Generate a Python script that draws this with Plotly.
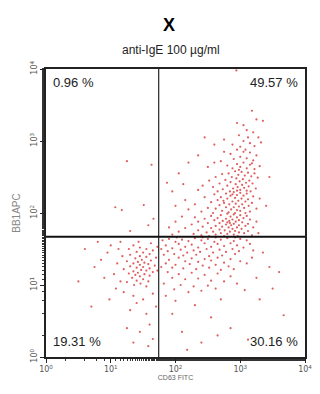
import plotly.graph_objects as go

# Events per quadrant, stored as log10 fluorescence (CD63 FITC, BB1 APC)
ur_cd63 = [3.18,3.25,3.05,3.35,2.95,2.94,
    3.10,3.20,2.98,3.28,3.05,3.15,2.88,3.22,3.00,3.32,2.75,3.12,
    2.95,3.05,3.15,2.85,3.25,3.00,3.10,2.90,3.20,2.70,3.05,2.95,3.15,2.80,3.30,3.00,3.10,2.88,2.60,3.22,2.98,2.75,3.08,2.50,3.18,
    2.92,3.02,3.12,2.82,3.22,2.72,2.97,3.07,3.17,2.87,2.62,3.27,2.94,3.04,2.77,3.14,2.52,2.99,2.85,3.09,3.19,2.68,2.93,3.03,2.42,2.80,3.13,2.58,2.96,3.06,2.89,3.24,2.73,3.00,3.10,2.84,2.35,2.65,3.16,2.95,
    2.90,3.00,2.78,3.10,2.60,2.95,3.05,2.85,3.20,2.70,2.45,2.92,3.02,2.80,3.12,2.65,2.97,2.88,3.08,2.55,2.75,3.18,2.93,3.03,2.83,2.30,2.68,3.13,2.98,2.90,2.78,3.06,2.50,2.62,3.25,2.86,2.95,3.00,2.72,3.15,2.40,2.82,2.92,3.08,2.58,2.20,2.15,3.30,2.88,2.74,
    2.80,2.90,3.00,2.70,2.55,3.10,2.85,2.95,2.65,3.05,2.45,2.78,2.88,3.15,2.98,2.60,2.83,2.73,2.35,2.93,3.03,2.80,2.84,2.68,2.50,3.12,2.90,2.78,2.25,2.98,2.86,2.62,3.08,2.72,2.42,2.95,2.82,3.20,2.55,2.15,2.88,3.02,2.68,2.76,2.35,2.92,3.12,2.58,2.05,2.84,2.98,2.48,2.70,3.06,2.28,2.80,2.90,1.95,2.62,3.18,2.40,2.75,2.96,2.52,3.28,3.25,2.00,1.90,2.10,2.30,
    1.87,2.05,2.20,1.95,2.35,2.12,2.60,2.45,2.00,3.45,3.40]
ur_bb1 = [3.42,3.30,3.22,3.28,3.25,3.98,
    3.15,3.12,3.08,3.05,3.00,2.97,2.95,2.93,2.92,2.98,3.02,3.05,
    2.88,2.85,2.84,2.82,2.80,2.78,2.76,2.75,2.73,2.72,2.70,2.68,2.67,2.66,2.65,2.64,2.62,2.62,2.70,2.61,2.60,2.85,2.88,2.64,2.69,
    2.58,2.57,2.56,2.55,2.55,2.54,2.53,2.52,2.51,2.50,2.50,2.49,2.48,2.47,2.46,2.45,2.45,2.44,2.43,2.42,2.41,2.41,2.40,2.39,2.38,2.38,2.37,2.36,2.36,2.35,2.34,2.34,2.33,2.32,2.31,2.30,2.32,2.30,2.30,2.31,
    2.29,2.28,2.27,2.27,2.26,2.25,2.24,2.24,2.23,2.22,2.22,2.21,2.20,2.20,2.19,2.18,2.17,2.16,2.16,2.15,2.14,2.14,2.13,2.12,2.12,2.12,2.11,2.10,2.09,2.08,2.08,2.07,2.07,2.06,2.06,2.05,2.04,2.03,2.03,2.02,2.02,2.01,2.00,2.00,2.00,2.05,2.18,2.20,2.26,2.17,
    1.99,1.98,1.97,1.97,1.96,1.96,1.95,1.94,1.93,1.93,1.92,1.92,1.91,1.91,1.90,1.90,1.89,1.89,1.88,1.88,1.87,1.87,1.86,1.86,1.86,1.85,1.85,1.84,1.84,1.83,1.83,1.82,1.82,1.81,1.81,1.80,1.80,1.80,1.79,1.79,1.78,1.78,1.77,1.76,1.76,1.75,1.75,1.74,1.74,1.74,1.73,1.73,1.72,1.72,1.71,1.71,1.70,1.70,1.70,1.69,1.69,1.68,1.68,1.68,1.72,1.88,1.88,1.80,1.95,1.94,
    2.42,2.55,2.70,2.30,2.80,2.40,2.95,3.05,2.10,2.50,2.10]

ul_cd63 = [1.25,1.63,1.07,1.17,1.51,1.66,1.58,1.30]
ul_bb1 = [2.72,2.67,2.08,2.04,2.11,1.92,1.83,1.75]

ll_cd63 = [1.35,1.45,1.55,1.65,1.40,1.50,1.60,1.30,1.45,1.55,1.70,1.38,1.48,1.62,1.25,1.42,1.52,1.35,1.58,1.45,1.68,1.30,1.50,1.40,1.60,1.20,1.47,1.55,1.35,1.65,1.42,1.28,1.52,1.38,1.60,1.45,1.33,1.50,1.40,1.58,1.25,1.46,1.36,1.55,1.62,1.28,1.72,1.18,1.72,1.43,
    1.10,1.05,0.95,1.15,0.85,1.00,0.75,0.60,1.20,1.35,1.50,1.65,1.08,0.90,0.70,1.30,1.55,1.45,1.25,1.65,0.50,1.12,0.80,1.70,1.40,1.60,1.15,0.98,1.35,1.58]
ll_bb1 = [1.55,1.52,1.50,1.48,1.46,1.45,1.43,1.42,1.40,1.39,1.38,1.37,1.35,1.34,1.33,1.32,1.31,1.30,1.29,1.28,1.27,1.26,1.25,1.24,1.23,1.22,1.21,1.20,1.19,1.18,1.17,1.16,1.15,1.14,1.13,1.12,1.10,1.08,1.06,1.05,1.04,1.02,1.00,0.98,1.58,1.50,1.53,1.40,1.20,1.60,
    1.30,1.15,1.45,1.05,1.35,1.55,1.25,1.50,0.90,0.85,0.80,0.88,0.95,1.10,0.70,0.65,0.60,0.35,0.40,0.25,1.05,1.50,1.60,0.70,0.75,0.45,1.60,0.80,0.20,0.15]

lr_cd63 = [1.80,1.90,2.00,2.10,2.20,2.30,2.40,2.50,2.60,2.70,2.80,2.90,3.00,3.10,2.85,2.65,2.45,2.25,2.05,1.85,2.95,2.75,2.55,2.35,2.15,1.95,3.05,2.88,2.68,2.48,2.28,2.08,1.88,2.78,2.58,2.38,2.18,2.98,3.15,3.20,2.62,2.42,2.02,2.92,1.78,
    1.82,1.98,2.12,2.32,2.52,2.72,2.92,2.05,2.25,2.45,2.65,2.85,1.90,2.15,2.35,2.55,2.75,3.00,1.85,2.00,2.22,2.42,2.62,2.82,1.95,2.12,2.32,2.52,2.70,3.10,1.78,2.90,3.18,
    1.88,2.05,2.25,2.45,2.65,2.85,1.95,2.15,2.35,2.55,2.75,1.82,2.08,2.28,2.50,2.95,2.40,2.20,1.98,2.62,
    3.45,3.60,3.67,3.07,3.12,2.70,2.30,1.95,2.55,2.85,2.10,3.30,2.40,3.50,3.25,2.00,2.65,3.35,1.85,2.18]
lr_bb1 = [1.62,1.64,1.60,1.63,1.61,1.65,1.62,1.64,1.60,1.63,1.65,1.61,1.64,1.62,1.58,1.57,1.58,1.56,1.57,1.55,1.55,1.54,1.53,1.52,1.53,1.51,1.52,1.50,1.49,1.50,1.48,1.49,1.47,1.46,1.45,1.46,1.45,1.47,1.57,1.48,1.66,1.66,1.66,1.66,1.50,
    1.42,1.43,1.41,1.42,1.40,1.41,1.43,1.38,1.37,1.36,1.38,1.36,1.35,1.33,1.32,1.34,1.31,1.33,1.30,1.28,1.29,1.27,1.28,1.26,1.24,1.23,1.22,1.24,1.21,1.30,1.25,1.22,1.38,
    1.18,1.15,1.17,1.14,1.16,1.12,1.10,1.08,1.09,1.06,1.05,1.02,1.00,0.98,0.99,1.02,0.92,0.90,0.94,0.95,
    1.25,1.18,0.58,0.93,0.24,0.80,0.72,0.60,0.55,0.40,0.35,0.80,0.20,0.95,1.10,0.78,0.30,1.45,0.85,0.10]

# Quadrant gates (log10 units) and quadrant percentages
gate_cd63 = 1.74
gate_bb1 = 1.67
quad_pct = {"UL": 0.96, "UR": 49.57, "LL": 19.31, "LR": 30.16}

decades = [0, 1, 2, 3, 4]
decade_text = ["10<sup>%d</sup>" % d for d in decades]

xs = ur_cd63 + ul_cd63 + ll_cd63 + lr_cd63
ys = ur_bb1 + ul_bb1 + ll_bb1 + lr_bb1

fig = go.Figure()
fig.add_trace(go.Scatter(
    x=[10 ** v for v in xs], y=[10 ** v for v in ys],
    mode="markers",
    marker=dict(size=2.2, color="rgba(215,55,55,0.8)", line=dict(width=0)),
    hoverinfo="skip", showlegend=False,
))

axis_common = dict(
    type="log", range=[0, 4], showgrid=False, zeroline=False,
    showline=True, linecolor="#222", linewidth=1.5, mirror=True,
    ticks="outside", ticklen=4, tickcolor="#222", tickwidth=1,
    tickvals=[10 ** d for d in decades], ticktext=decade_text,
    tickfont=dict(family="DejaVu Sans", size=8, color="#555"),
    minor=dict(ticks="outside", ticklen=2, tickcolor="#333", tickwidth=1, showgrid=False),
)

fig.update_xaxes(**axis_common, title=dict(text="CD63 FITC", standoff=2,
                 font=dict(family="Liberation Sans", size=7, color="#666")))
fig.update_yaxes(**axis_common, tickangle=-90,
                 title=dict(text="BB1APC", standoff=6,
                            font=dict(family="Liberation Sans", size=10, color="#888")))

# Quadrant gate lines
fig.add_shape(type="line", xref="x", yref="y domain", x0=10 ** gate_cd63, x1=10 ** gate_cd63,
              y0=0, y1=1, line=dict(color="#333", width=1.3))
fig.add_shape(type="line", xref="x domain", yref="y", x0=0, x1=1, y0=10 ** gate_bb1,
              y1=10 ** gate_bb1, line=dict(color="#111", width=2))

lab_font = dict(family="Liberation Sans", size=13, color="#222")
for key, xa, ya, xanc, yanc in [("UL", 0.02, 0.985, "left", "top"),
                                 ("UR", 0.98, 0.985, "right", "top"),
                                 ("LL", 0.02, 0.02, "left", "bottom"),
                                 ("LR", 0.98, 0.02, "right", "bottom")]:
    fig.add_annotation(text="%.2f %%" % quad_pct[key], xref="x domain", yref="y domain",
                       x=xa, y=ya, xanchor=xanc, yanchor=yanc, showarrow=False, font=lab_font)

# Title and subtitle, placed in paper coordinates of the plot area
pw, ph = 320 - 46 - 8, 394 - 69 - 37
fig.add_annotation(text="<b>X</b>", xref="paper", yref="paper",
                   x=(172 - 46) / pw, y=(357 - 25) / ph, xanchor="center", yanchor="middle",
                   showarrow=False, font=dict(family="Liberation Sans", size=18, color="#000"))
fig.add_annotation(text="anti-IgE 100 µg/ml", xref="paper", yref="paper",
                   x=(174 - 46) / pw, y=(357 - 50) / ph, xanchor="center", yanchor="middle",
                   showarrow=False, font=dict(family="Liberation Sans", size=12, color="#222"))

fig.update_layout(
    width=320, height=394, margin=dict(l=46, r=8, t=69, b=37),
    paper_bgcolor="white", plot_bgcolor="white",
)

fig.write_html("out.html")
